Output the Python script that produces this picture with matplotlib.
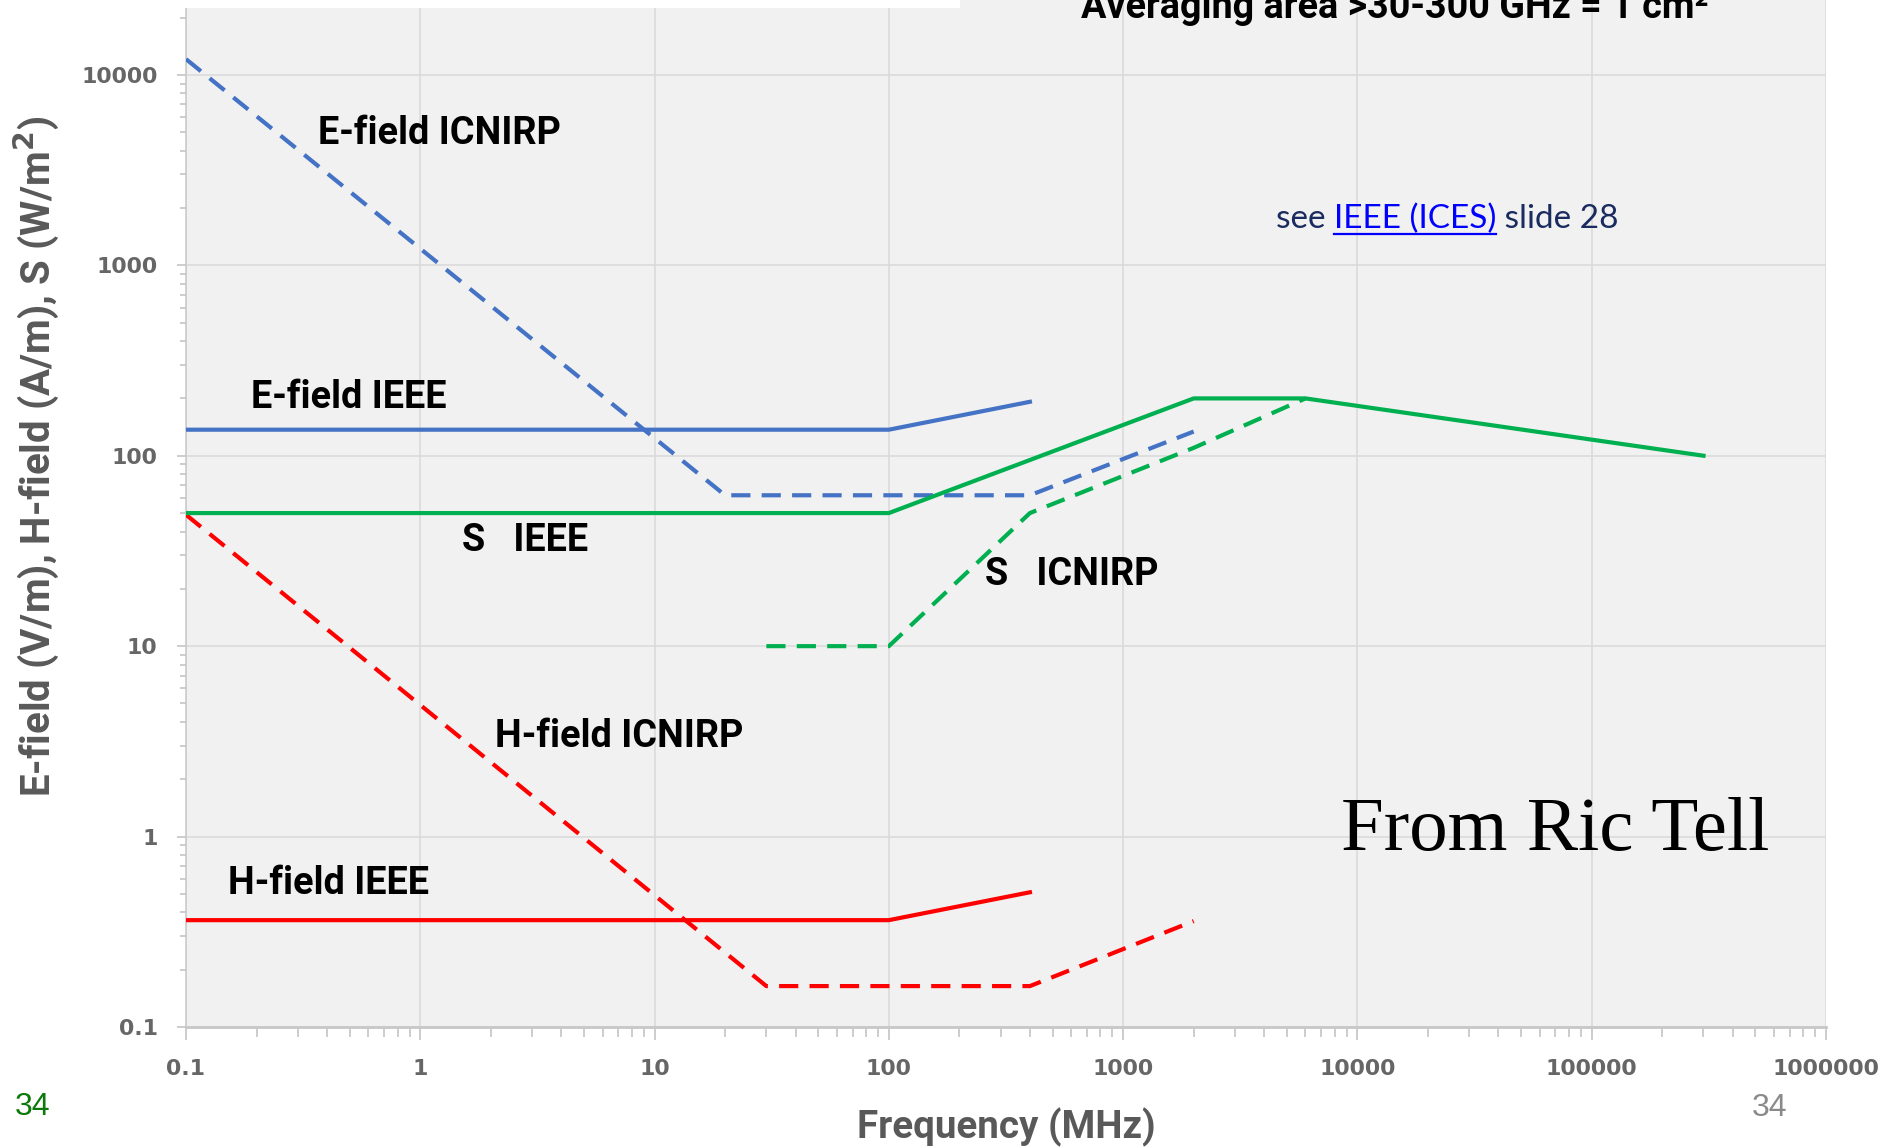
import matplotlib
matplotlib.use("Agg")
import matplotlib.pyplot as plt
from matplotlib import font_manager as fm
from matplotlib.ticker import FixedLocator, FixedFormatter, LogLocator, NullFormatter
from matplotlib.patches import Rectangle
from matplotlib.lines import Line2D

# ---------------- data ----------------
freq_e_icnirp = [0.1, 20, 400, 2000]
e_icnirp = [12100, 62, 62, 134]

freq_e_ieee = [0.1, 100, 400]
e_ieee = [137, 137, 192]

freq_s_ieee = [0.1, 100, 2000, 6000, 300000]
s_ieee = [50, 50, 200, 200, 100]

freq_s_icnirp = [30, 100, 400, 2000, 6000]
s_icnirp = [10, 10, 50, 110, 200]

freq_h_icnirp = [0.1, 30, 400, 2000]
h_icnirp = [49, 0.164, 0.164, 0.36]

freq_h_ieee = [0.1, 100, 400]
h_ieee = [0.364, 0.364, 0.51]

x_ticks = [0.1, 1, 10, 100, 1000, 10000, 100000, 1000000]
x_tick_labels = ["0.1", "1", "10", "100", "1000", "10000", "100000", "1000000"]
y_ticks = [0.1, 1, 10, 100, 1000, 10000]
y_tick_labels = ["0.1", "1", "10", "100", "1000", "10000"]

# ---------------- fonts ----------------
names = {f.name for f in fm.fontManager.ttflist}
def pick(*cands):
    for c in cands:
        if c in names:
            return c
    return "DejaVu Sans"

LABEL_FONT = pick("Liberation Sans Narrow", "Roboto", "Lato")
TEXT_FONT = pick("Lato", "Open Sans", "Noto Sans")
SERIF_FONT = pick("Liberation Serif", "DejaVu Serif")
ARIAL = pick("Liberation Sans", "DejaVu Sans")

W, H = 1883, 1148
fig = plt.figure(figsize=(W / 100, H / 100), dpi=100)
fig.patch.set_facecolor("white")

left, right, bottom_px = 186, 1826, 1027
ax = fig.add_axes([left / W, (H - bottom_px) / H, (right - left) / W, bottom_px / H])
ax.set_facecolor("#f1f1f1")
ax.set_xscale("log")
ax.set_yscale("log")
ax.set_xlim(0.1, 1e6)
ax.set_ylim(0.1, 10 ** (4 + 75 / 190.7))

BLUE = "#4472c4"
GREEN = "#00b050"
RED = "#ff0000"
LW = 3.0
DASH = (4.6, 2.7)

ax.plot(freq_e_icnirp, e_icnirp, color=BLUE, lw=LW, dashes=DASH, zorder=3)
ax.plot(freq_e_ieee, e_ieee, color=BLUE, lw=LW, zorder=3)
ax.plot(freq_s_icnirp, s_icnirp, color=GREEN, lw=LW, dashes=DASH, zorder=3)
ax.plot(freq_s_ieee, s_ieee, color=GREEN, lw=LW, zorder=4)
ax.plot(freq_h_icnirp, h_icnirp, color=RED, lw=LW, dashes=DASH, zorder=3)
ax.plot(freq_h_ieee, h_ieee, color=RED, lw=LW, zorder=3)

# axes styling
for s in ("top", "right"):
    ax.spines[s].set_visible(False)
ax.spines["left"].set_color("#c8c8c8")
ax.spines["left"].set_linewidth(1.1)
ax.spines["bottom"].set_color("#c8c8c8")
ax.spines["bottom"].set_linewidth(2.0)

ax.xaxis.set_major_locator(FixedLocator(x_ticks))
ax.xaxis.set_major_formatter(FixedFormatter(x_tick_labels))
ax.yaxis.set_major_locator(FixedLocator(y_ticks))
ax.yaxis.set_major_formatter(FixedFormatter(y_tick_labels))
ax.xaxis.set_minor_locator(LogLocator(base=10, subs=range(2, 10), numticks=20))
ax.yaxis.set_minor_locator(LogLocator(base=10, subs=range(2, 10), numticks=20))
ax.xaxis.set_minor_formatter(NullFormatter())
ax.yaxis.set_minor_formatter(NullFormatter())

ax.grid(True, which="major", color="#d9d9d9", lw=1.1, zorder=0)
ax.set_axisbelow(True)

ax.tick_params(axis="x", which="major", length=9.4, width=1.1, color="#c0c0c0", pad=13.5)
ax.tick_params(axis="x", which="minor", length=7, width=1.1, color="#c0c0c0")
ax.tick_params(axis="y", which="major", length=6.5, width=1.1, color="#c0c0c0", pad=14)
ax.tick_params(axis="y", which="minor", length=4.3, width=1.1, color="#c0c0c0")
for lab in ax.get_xticklabels() + ax.get_yticklabels():
    lab.set_fontfamily("DejaVu Sans")
    lab.set_fontweight("bold")
    lab.set_fontsize(15.8)
    lab.set_color("#666666")

# curve labels (data coordinates, baseline)
lab_kw = dict(fontfamily=LABEL_FONT, fontweight="bold", fontsize=27.3, color="black",
              va="baseline", ha="left", zorder=5)
ax.text(0.365, 4350, "E-field ICNIRP", **lab_kw)
ax.text(0.19, 179, "E-field IEEE", **lab_kw)
ax.text(1.51, 31.5, "S   IEEE", **lab_kw)
ax.text(257, 20.9, "S   ICNIRP", **lab_kw)
ax.text(2.08, 2.96, "H-field ICNIRP", **lab_kw)
ax.text(0.151, 0.501, "H-field IEEE", **lab_kw)

ax.text(8510, 0.853, "From Ric Tell", fontfamily=SERIF_FONT, fontsize=55.4,
        color="black", va="baseline", ha="left", zorder=5)

# axis labels
fig.text(36 / W, 1 - 456 / H, "E-field (V/m), H-field (A/m), S (W/m$^{\\mathbf{2}}$)",
         rotation=90, ha="center", va="center", fontfamily=LABEL_FONT,
         fontweight="bold", fontsize=29, color="#595959")
fig.text(1006 / W, 1 - 1138 / H, "Frequency (MHz)", ha="center", va="baseline",
         fontfamily=LABEL_FONT, fontweight="bold", fontsize=27.7, color="#595959")

# title clipped at top (as in the reference)
fig.text(1081 / W, 1 - 18 / H, "Averaging area >30-300 GHz = 1 cm\u00b2", ha="left",
         va="baseline", fontfamily=LABEL_FONT, fontweight="bold", fontsize=27.2,
         color="black")

# white strip at top-left
fig.patches.append(Rectangle((0, 1 - 8 / H), 960 / W, 8 / H, transform=fig.transFigure,
                             facecolor="white", edgecolor="none", zorder=10))

# page numbers
fig.text(15 / W, 1 - 1115 / H, "34", fontfamily=ARIAL, fontsize=23, color="#0b7a0b",
         ha="left", va="baseline")
fig.text(1752 / W, 1 - 1116 / H, "34", fontfamily=ARIAL, fontsize=23, color="#8a8a8a",
         ha="left", va="baseline")

# "see IEEE (ICES) slide 28" with link styling
fig.canvas.draw()
renderer = fig.canvas.get_renderer()
x0 = 1276
base_y = 1 - 228 / H
parts = [("see ", "#1a2b5f", False), ("IEEE (ICES)", "#0000ff", True), (" slide 28", "#1a2b5f", False)]
xpos = x0
for txt, col, ul in parts:
    t = fig.text(xpos / W, base_y, txt, fontfamily=TEXT_FONT, fontsize=24, color=col,
                 ha="left", va="baseline")
    bb = t.get_window_extent(renderer)
    if ul:
        fig.add_artist(Line2D([bb.x0 / W, bb.x1 / W], [1 - 234 / H, 1 - 234 / H],
                              transform=fig.transFigure, color=col, lw=1.6))
    xpos = bb.x1

fig.savefig("out.png", dpi=100, facecolor="white")
